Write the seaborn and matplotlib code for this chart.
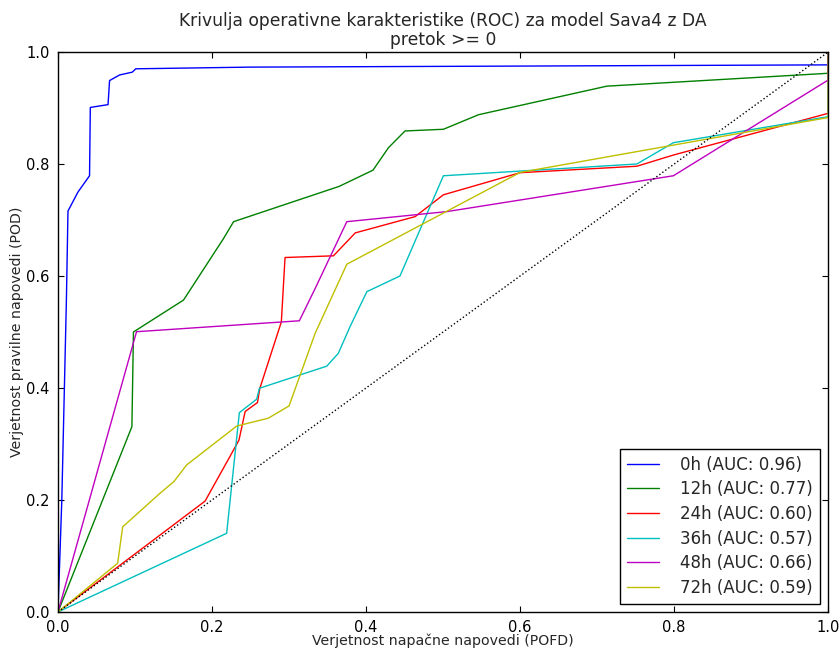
import matplotlib
matplotlib.use("Agg")
import matplotlib.pyplot as plt
import seaborn as sns
import pandas as pd

# ROC points (POFD, POD) per forecast lead time
pofd_0h = [0.0, 0.005, 0.011, 0.013, 0.026, 0.041, 0.042, 0.065, 0.067, 0.080, 0.0965, 0.101, 0.249, 1.0, 1.0]
pod_0h = [0.0, 0.20, 0.56, 0.716, 0.750, 0.779, 0.901, 0.906, 0.949, 0.959, 0.964, 0.970, 0.973, 0.977, 1.0]

pofd_12h = [0.0, 0.096, 0.098, 0.163, 0.215, 0.228, 0.365, 0.409, 0.429, 0.4506, 0.5004, 0.546, 0.7126, 1.0, 1.0]
pod_12h = [0.0, 0.331, 0.500, 0.557, 0.667, 0.697, 0.760, 0.789, 0.829, 0.859, 0.862, 0.888, 0.939, 0.962, 1.0]

pofd_24h = [0.0, 0.191, 0.223, 0.235, 0.243, 0.259, 0.262, 0.290, 0.2948, 0.3576, 0.386, 0.4636, 0.5004, 0.600, 0.7515, 0.799, 1.0, 1.0]
pod_24h = [0.0, 0.198, 0.277, 0.307, 0.358, 0.374, 0.399, 0.518, 0.633, 0.636, 0.677, 0.706, 0.745, 0.7845, 0.796, 0.816, 0.8905, 1.0]

pofd_36h = [0.0, 0.219, 0.2355, 0.258, 0.2615, 0.349, 0.364, 0.379, 0.401, 0.444, 0.5004, 0.7515, 0.799, 1.0, 1.0]
pod_36h = [0.0, 0.1405, 0.356, 0.380, 0.3995, 0.439, 0.462, 0.509, 0.572, 0.600, 0.779, 0.800, 0.838, 0.8845, 1.0]

pofd_48h = [0.0, 0.102, 0.3134, 0.334, 0.375, 0.505, 0.799, 1.0, 1.0]
pod_48h = [0.0, 0.5005, 0.520, 0.578, 0.697, 0.715, 0.779, 0.950, 1.0]

pofd_72h = [0.0, 0.0775, 0.084, 0.1325, 0.1506, 0.167, 0.232, 0.273, 0.300, 0.334, 0.375, 0.600, 1.0, 1.0]
pod_72h = [0.0, 0.087, 0.152, 0.212, 0.233, 0.2625, 0.332, 0.346, 0.368, 0.498, 0.621, 0.785, 0.883, 1.0]

lead_times = ["0h", "12h", "24h", "36h", "48h", "72h"]
auc_values = [0.96, 0.77, 0.60, 0.57, 0.66, 0.59]
line_colors = ["#0000ff", "#008000", "#ff0000", "#00bfbf", "#bf00bf", "#bfbf00"]

curves = [
    (pofd_0h, pod_0h), (pofd_12h, pod_12h), (pofd_24h, pod_24h),
    (pofd_36h, pod_36h), (pofd_48h, pod_48h), (pofd_72h, pod_72h),
]

sns.set_style("white")
plt.rcParams["font.family"] = ["DejaVu Sans"]
plt.rcParams["xtick.direction"] = "in"
plt.rcParams["ytick.direction"] = "in"

fig = plt.figure(figsize=(8.4, 6.5), dpi=100)
ax = fig.add_axes([0.069, 0.0585, 0.917, 0.8615])

for lead, auc, color, (xs, ys) in zip(lead_times, auc_values, line_colors, curves):
    df = pd.DataFrame({"POFD": xs, "POD": ys})
    sns.lineplot(data=df, x="POFD", y="POD", sort=False, estimator=None,
                 color=color, linewidth=1.0, ax=ax,
                 label=f"{lead} (AUC: {auc:.2f})")

# no-skill diagonal
ax.plot([0, 1], [0, 1], linestyle=":", color="black", linewidth=1.0)

ax.set_xlim(0, 1)
ax.set_ylim(0, 1)
ax.set_xticks([0.0, 0.2, 0.4, 0.6, 0.8, 1.0])
ax.set_yticks([0.0, 0.2, 0.4, 0.6, 0.8, 1.0])
ax.tick_params(axis="both", which="both", direction="in", top=True, right=True,
               bottom=True, left=True, length=4, width=0.8, labelsize=10.5,
               colors="black", pad=6)
for sp in ax.spines.values():
    sp.set_color("black")
    sp.set_linewidth(1.0)

ax.set_xlabel("Verjetnost napačne napovedi (POFD)", fontsize=10.2, labelpad=-1)
ax.set_ylabel("Verjetnost pravilne napovedi (POD)", fontsize=10.2)
ax.yaxis.set_label_coords(-0.044, 0.5)
ax.set_title("Krivulja operativne karakteristike (ROC) za model Sava4 z DA\npretok >= 0",
             fontsize=12.3, pad=5, linespacing=1.05)

leg = ax.legend(loc="lower right", fontsize=12, frameon=True, fancybox=False,
                edgecolor="black", framealpha=1.0, borderpad=0.4,
                labelspacing=0.40, handlelength=1.9, handletextpad=1.3,
                borderaxespad=0.5)
leg.get_frame().set_linewidth(1.0)

fig.savefig("out.png", dpi=100, facecolor="white")
